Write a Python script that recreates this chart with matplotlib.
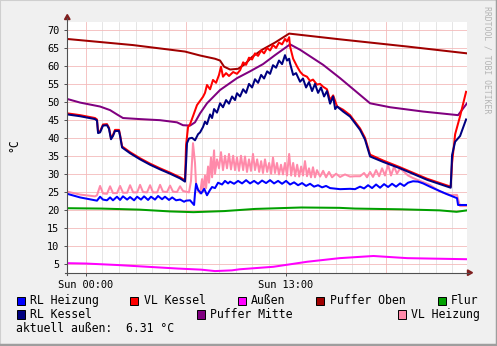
import matplotlib
matplotlib.use("Agg")
import matplotlib.pyplot as plt
from matplotlib.patches import Rectangle, Polygon
from matplotlib.lines import Line2D
import numpy as np

# ---------------- data (hours relative to Sun 00:00, °C) ----------------
po_t = [-1.20, 3.08, 6.45, 7.43, 8.40, 8.73, 8.99, 9.38, 9.90, 10.35, 10.81, 11.46, 12.30, 13.22, 16.53, 20.89, 24.78]
po_v = [67.5, 65.8, 64.0, 62.9, 62.0, 61.5, 59.8, 59.0, 59.2, 60.5, 62.5, 64.5, 66.5, 69.0, 67.4, 65.4, 63.5]

pm_t = [-1.20, -0.37, 0.93, 1.58, 2.03, 2.42, 3.53, 4.83, 5.93, 6.32, 6.78, 7.10, 7.43, 7.88, 8.73, 9.83,
        10.68, 11.52, 12.30, 13.28, 13.93, 15.43, 16.53, 18.48, 19.78, 21.93, 24.20, 24.78]
pm_v = [50.8, 49.8, 48.7, 47.7, 46.5, 45.5, 45.2, 44.9, 44.3, 43.5, 43.4, 44.3, 46.8, 49.6, 53.3, 56.6,
        58.5, 60.5, 63.0, 66.0, 64.5, 60.3, 56.6, 49.6, 48.5, 47.3, 46.3, 49.6]

rk_t = [-1.20, -0.37, 0.60, 0.73, 0.80, 0.93, 1.12, 1.38, 1.51, 1.64, 1.77, 1.90, 2.16, 2.23, 2.36, 2.88,
        3.53, 4.18, 4.83, 5.48, 6.13, 6.45, 6.52, 6.58, 6.71, 6.91, 7.10, 7.30, 7.43, 7.62, 7.75, 7.88,
        8.08, 8.21, 8.34, 8.53, 8.73, 8.92, 9.12, 9.31, 9.51, 9.70, 9.83, 10.03, 10.23, 10.42, 10.61, 10.81,
        11.00, 11.20, 11.40, 11.59, 11.79, 11.98, 12.17, 12.37, 12.56, 12.76, 12.95, 13.08, 13.22, 13.28,
        13.48, 13.67, 13.93, 14.12, 14.32, 14.51, 14.71, 14.90, 15.10, 15.29, 15.49, 15.68, 15.88, 16.08,
        16.21, 16.34, 16.73, 17.18, 17.83, 18.15, 18.48, 19.32, 20.43, 22.19, 23.72, 23.81, 24.01, 24.33, 24.72]
rk_v = [46.5, 46.0, 45.2, 44.8, 41.3, 41.5, 43.4, 43.5, 42.5, 39.6, 40.5, 41.9, 41.9, 40.5, 37.3, 35.7,
        34.0, 32.5, 31.2, 30.0, 28.7, 27.8, 33.0, 38.5, 39.8, 40.0, 39.3, 41.0, 41.5, 43.0, 44.5, 43.8,
        46.5, 45.5, 48.0, 47.0, 49.6, 48.5, 50.5, 49.5, 51.5, 50.5, 52.4, 51.5, 53.5, 52.5, 55.0, 54.0,
        56.3, 55.3, 57.5, 56.5, 58.5, 57.8, 60.2, 59.5, 61.5, 60.5, 63.0, 61.5, 62.0, 60.7,
        57.5, 58.0, 55.6, 56.5, 54.0, 55.5, 53.0, 55.0, 52.5, 54.0, 51.5, 53.0, 49.5, 51.5,
        48.0, 48.7, 47.3, 45.9, 42.2, 39.5, 34.8, 33.3, 31.5, 28.3, 26.1, 35.2, 38.9, 40.5, 45.1]

vk_t = [-1.20, -0.37, 0.60, 0.73, 0.80, 0.93, 1.12, 1.38, 1.51, 1.64, 1.77, 1.90, 2.16, 2.23, 2.36, 2.88,
        3.53, 4.18, 4.83, 5.48, 6.13, 6.45, 6.52, 6.65, 6.78, 6.97, 7.23, 7.62, 7.75, 7.88, 8.08, 8.27,
        8.47, 8.66, 8.79, 8.92, 9.12, 9.31, 9.58, 9.83, 10.03, 10.23, 10.42, 10.61, 10.81, 11.00, 11.20,
        11.40, 11.59, 11.79, 11.98, 12.17, 12.37, 12.56, 12.76, 12.95, 13.08, 13.22, 13.28, 13.48, 13.74,
        13.93, 14.12, 14.38, 14.58, 14.77, 15.03, 15.23, 15.43, 15.68, 15.88, 16.08, 16.34, 16.73, 17.18,
        17.83, 18.15, 18.48, 19.32, 20.43, 22.19, 23.72, 23.81, 24.01, 24.33, 24.72]
vk_v = [46.8, 46.3, 45.5, 45.1, 41.6, 41.8, 43.7, 43.8, 42.8, 39.9, 40.8, 42.2, 42.2, 40.8, 37.6, 36.0,
        34.3, 32.8, 31.5, 30.3, 29.0, 28.2, 38.0, 43.0, 43.8, 46.0, 49.1, 51.4, 52.5, 54.7, 53.5, 56.1,
        55.3, 57.5, 59.8, 57.0, 58.0, 57.2, 58.3, 57.8, 58.8, 61.0, 60.3, 62.3, 61.8, 63.5, 62.8,
        64.3, 63.5, 65.0, 64.3, 65.8, 65.0, 66.5, 66.0, 67.5, 66.8, 68.0, 65.4, 62.0, 59.8,
        58.4, 57.5, 57.0, 55.8, 56.2, 54.8, 55.0, 54.2, 53.5, 50.5, 51.8, 48.7, 47.8, 46.3,
        42.6, 40.0, 35.3, 33.7, 31.8, 28.6, 26.4, 33.0, 41.0, 46.0, 52.8]

rh_t = [-1.20, -0.37, 0.73, 0.93, 1.12, 1.38, 1.58, 1.77, 2.03, 2.23, 2.42, 2.69, 2.88, 3.14, 3.34, 3.59,
        3.79, 4.05, 4.24, 4.50, 4.70, 4.96, 5.15, 5.41, 5.62, 5.87, 6.13, 6.39, 6.52, 6.78, 7.04, 7.10,
        7.17, 7.30, 7.50, 7.70, 7.88, 8.08, 8.21, 8.40, 8.60, 8.86, 9.05, 9.25, 9.38, 9.64, 9.90, 10.16,
        10.42, 10.68, 10.94, 11.20, 11.46, 11.72, 11.98, 12.24, 12.50, 12.76, 13.02, 13.28, 13.54, 13.80,
        14.06, 14.32, 14.58, 14.84, 15.10, 15.36, 15.62, 15.88, 16.53, 17.18, 17.50, 17.83, 18.09, 18.35,
        18.61, 18.87, 19.13, 19.39, 19.65, 19.91, 20.17, 20.43, 20.69, 20.95, 21.27, 21.60, 21.93, 22.37,
        22.84, 23.48, 24.13, 24.20, 24.78]
rh_v = [24.4, 23.4, 22.5, 23.6, 22.8, 22.6, 23.4, 22.6, 23.6, 22.7, 23.7, 22.8, 23.5, 22.6, 23.6, 22.8,
        23.7, 22.7, 23.6, 22.8, 23.8, 22.9, 23.6, 22.7, 23.4, 22.6, 22.8, 22.2, 22.5, 22.6, 21.3, 24.5,
        27.2, 25.5, 24.5, 25.8, 24.0, 25.5, 26.3, 26.0, 27.5, 27.0, 28.0, 27.3, 27.8, 27.2, 28.0, 27.3,
        28.2, 27.3, 28.0, 27.2, 28.1, 27.4, 28.2, 27.3, 28.0, 27.2, 28.0, 27.0, 27.6, 26.8,
        27.4, 26.6, 27.2, 26.4, 26.8, 26.2, 26.6, 26.0, 25.7, 25.8, 25.7, 26.4, 25.9, 26.8,
        26.0, 27.0, 26.1, 27.1, 26.3, 27.2, 26.4, 27.3, 26.6, 27.5, 27.9, 27.8, 27.3, 26.4,
        25.5, 24.3, 23.2, 21.3, 21.3]

vh_t = [-1.20, -0.37, 0.60, 0.73, 0.93, 1.12, 1.38, 1.58, 1.77, 2.03, 2.23, 2.42, 2.69, 2.88, 3.08, 3.34,
        3.53, 3.72, 3.98, 4.18, 4.37, 4.64, 4.83, 5.02, 5.28, 5.48, 5.67, 5.93, 6.13, 6.32, 6.52, 6.71,
        6.84, 6.97, 7.10, 7.17, 7.30, 7.43, 7.56, 7.62, 7.75, 7.82, 7.95, 8.01, 8.14, 8.21, 8.34, 8.40,
        8.53, 8.66, 8.79, 8.92, 9.05, 9.18, 9.31, 9.44, 9.58, 9.70, 9.83, 9.96, 10.09, 10.23, 10.35, 10.48,
        10.61, 10.74, 10.87, 11.00, 11.14, 11.27, 11.40, 11.52, 11.65, 11.79, 11.92, 12.05, 12.17, 12.30,
        12.43, 12.56, 12.69, 12.82, 12.95, 13.08, 13.22, 13.35, 13.48, 13.61, 13.74, 13.87, 14.00, 14.12,
        14.25, 14.38, 14.51, 14.64, 14.77, 14.90, 15.03, 15.23, 15.43, 15.62, 15.81, 16.01, 16.27, 16.53,
        16.85, 17.18, 17.50, 17.83, 18.09, 18.28, 18.48, 18.67, 18.87, 19.07, 19.26, 19.45, 19.65, 19.84,
        20.04, 20.23, 20.43, 20.69, 20.95, 21.27, 21.73, 22.37, 23.03, 23.68, 24.13, 24.26, 24.33, 24.78]
vh_v = [25.0, 24.2, 23.7, 24.0, 26.6, 24.5, 24.4, 26.5, 24.6, 24.6, 26.6, 24.7, 24.7, 26.8, 24.8, 24.8,
        26.9, 24.9, 24.8, 26.8, 24.8, 24.8, 26.9, 25.0, 24.9, 26.7, 25.0, 24.9, 26.5, 25.2, 25.0, 24.8,
        28.0, 38.5, 33.0, 27.0, 25.2, 24.5, 28.5, 25.0, 29.5, 26.0, 32.0, 27.5, 34.5, 29.0, 36.5, 30.0,
        34.0, 31.5, 36.0, 31.0, 35.0, 31.5, 35.5, 31.2, 35.0, 31.0, 34.5, 30.8, 35.0, 31.0, 34.8, 30.5,
        34.0, 30.8, 35.5, 31.0, 34.0, 30.5, 33.5, 30.2, 34.0, 30.5, 33.0, 30.0, 34.5, 30.2,
        33.0, 29.8, 32.5, 29.8, 33.0, 29.5, 35.5, 29.5, 33.0, 29.3, 32.5, 29.2, 32.0, 29.5,
        33.5, 29.3, 31.5, 29.0, 31.8, 29.0, 31.0, 29.2, 30.8, 29.0, 30.5, 29.0, 30.0, 29.1,
        29.8, 29.2, 29.3, 29.3, 30.2, 29.0, 30.5, 29.1, 31.0, 29.3, 31.5, 29.5, 32.5, 29.5,
        32.0, 30.0, 31.5, 30.5, 29.5, 28.8, 28.0, 26.9, 25.0, 24.1, 24.1, 22.0, 21.0, 21.0]

fl_t = [-1.20, 1.00, 3.50, 5.50, 7.00, 9.00, 11.00, 14.00, 16.50, 17.50, 20.40, 23.00, 24.10, 24.78]
fl_v = [20.4, 20.3, 20.0, 19.5, 19.3, 19.6, 20.2, 20.6, 20.5, 20.3, 20.1, 19.8, 19.4, 19.8]

au_t = [-1.20, 0.00, 2.00, 4.00, 6.00, 7.50, 8.40, 9.50, 10.00, 12.20, 14.40, 16.50, 18.70, 20.90, 24.78]
au_v = [5.1, 5.0, 4.6, 4.1, 3.6, 3.3, 2.9, 3.1, 3.4, 4.1, 5.5, 6.5, 7.1, 6.5, 6.2]

labels = ["RL Heizung", "VL Kessel", "Außen", "Puffer Oben", "Flur",
          "RL Kessel", "Puffer Mitte", "VL Heizung"]
colors = {"RL Heizung": "#0000FF", "VL Kessel": "#FF0000", "Außen": "#FF00FF",
          "Puffer Oben": "#A00000", "Flur": "#00A000", "RL Kessel": "#000080",
          "Puffer Mitte": "#800080", "VL Heizung": "#FF8AAA"}
xtick_pos = [0, 13]
xtick_lab = ["Sun 00:00", "Sun 13:00"]
yticks = [5, 10, 15, 20, 25, 30, 35, 40, 45, 50, 55, 60, 65, 70]
current_outside = "6.31"

# ---------------- figure ----------------
W, H = 497, 346
fig = plt.figure(figsize=(W / 100, H / 100), dpi=100, facecolor="#F0F0F0")
mono = "DejaVu Sans Mono"

def fx(px):
    return px / W

def fy(py):
    return 1 - py / H

L, R, T, B = 67.3, 467.3, 21.7, 272.7
ax = fig.add_axes([fx(L), fy(B), (R - L) / W, (B - T) / H])
ax.set_facecolor("white")
ax.set_xlim(-1.20, 24.80)
ax.set_ylim(2.45, 72.31)

# grid
minor_step = 65 / 60
for i in range(0, 23):
    xv = i * minor_step
    if xv > 24.8:
        break
    if i % 6 == 0:
        continue
    ax.axvline(xv, color="#E0E0E0", lw=0.6, zorder=0)
for xv in [0, 6.5, 13, 19.5]:
    ax.axvline(xv, color="#F4BABA", lw=0.6, zorder=0.5)
for yv in yticks:
    ax.axhline(yv, color="#F4BABA", lw=0.6, zorder=0.5)

lw = 1.45
ax.plot(fl_t, fl_v, color=colors["Flur"], lw=lw, zorder=2)
ax.plot(au_t, au_v, color=colors["Außen"], lw=lw, zorder=2)
ax.plot(po_t, po_v, color=colors["Puffer Oben"], lw=lw, zorder=2)
ax.plot(pm_t, pm_v, color=colors["Puffer Mitte"], lw=lw, zorder=2)
ax.plot(vh_t, vh_v, color=colors["VL Heizung"], lw=lw, zorder=2)
ax.plot(rh_t, rh_v, color=colors["RL Heizung"], lw=lw, zorder=2)
ax.plot(vk_t, vk_v, color=colors["VL Kessel"], lw=lw, zorder=2)
ax.plot(rk_t, rk_v, color=colors["RL Kessel"], lw=lw, zorder=2)

for s in ax.spines.values():
    s.set_visible(False)
ax.set_yticks(yticks)
ax.set_yticklabels([str(v) for v in yticks], fontfamily=mono, fontsize=7.4)
ax.set_xticks(xtick_pos)
ax.set_xticklabels(xtick_lab, fontfamily=mono, fontsize=7.4)
ax.tick_params(axis="y", length=2.5, width=0.7, color="#505050", pad=3.2)
ax.tick_params(axis="x", length=2.5, width=0.7, color="#505050", pad=2.5)

# axis lines with arrows
fig.add_artist(Line2D([fx(L), fx(L)], [fy(B + 2), fy(18)], color="#505050", lw=0.8))
fig.add_artist(Line2D([fx(L - 2), fx(469)], [fy(B), fy(B)], color="#505050", lw=0.8))
fig.add_artist(Polygon([[fx(L - 2.8), fy(19.5)], [fx(L + 2.8), fy(19.5)], [fx(L), fy(14.5)]],
                       closed=True, color="#7F1F1F", transform=fig.transFigure))
fig.add_artist(Polygon([[fx(467.5), fy(B - 2.8)], [fx(467.5), fy(B + 2.8)], [fx(472.5), fy(B)]],
                       closed=True, color="#7F1F1F", transform=fig.transFigure))

# y label
fig.text(fx(13.5), fy(145), "°C", rotation=90, ha="center", va="center",
         fontfamily=mono, fontsize=8.3)

# watermark
fig.text(fx(487.5), fy(6), "RRDTOOL / TOBI OETIKER", rotation=270, ha="center", va="top",
         fontfamily=mono, fontsize=5.9, color="#B4B4B4")

# legend
legend_pos = [("RL Heizung", 16.5, 30, 300.8), ("VL Kessel", 130, 144, 300.8),
              ("Außen", 237.5, 251, 300.8), ("Puffer Oben", 316, 330, 300.8),
              ("Flur", 437.5, 451, 300.8), ("RL Kessel", 16.5, 30, 314.5),
              ("Puffer Mitte", 197, 210.5, 314.5), ("VL Heizung", 397.5, 411, 314.5)]
bs = 8.3
for name, bx, tx, cy in legend_pos:
    fig.add_artist(Rectangle((fx(bx), fy(cy + bs / 2)), bs / W, bs / H, facecolor=colors[name],
                             edgecolor="black", lw=0.7, transform=fig.transFigure))
    fig.text(fx(tx), fy(cy), name, ha="left", va="center", fontfamily=mono, fontsize=8.3)
fig.text(fx(16.5), fy(328.3), f"aktuell außen:  {current_outside} °C", ha="left", va="center",
         fontfamily=mono, fontsize=8.3)

# frame shading
fig.add_artist(Line2D([0, 0, 1], [0, 1, 1], color="#CFCFCF", lw=1.5, transform=fig.transFigure))
fig.add_artist(Line2D([0, 1, 1], [0.002, 0.002, 1], color="#9E9E9E", lw=2.5, transform=fig.transFigure))

fig.savefig("out.png", dpi=100, facecolor=fig.get_facecolor())
